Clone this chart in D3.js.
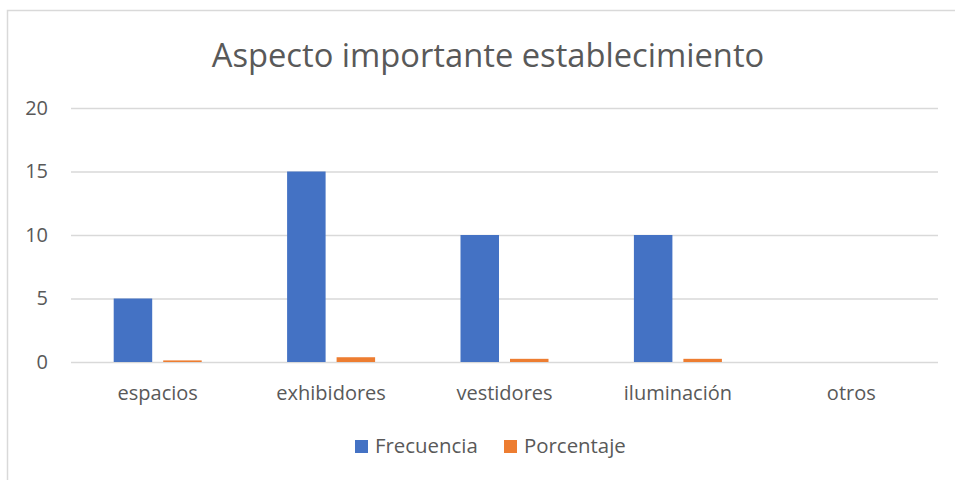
<!DOCTYPE html>
<html><head><meta charset="utf-8">
<script src="https://cdn.jsdelivr.net/npm/d3@7"></script>
<style>body{margin:0;background:#fff;} svg{display:block;font-family:"Open Sans",sans-serif;} svg text{font-family:"Open Sans",sans-serif;}</style>
</head><body><svg id="c" width="955" height="480"></svg>
<script>
const categories = ["espacios","exhibidores","vestidores","iluminación","otros"];
const frecuencia = [5,15,10,10,0];
const porcentaje = [0.125,0.375,0.25,0.25,0];
const seriesNames = ["Frecuencia","Porcentaje"];
const colors = ["#4472c4","#ed7d31"];
const yTicks = [0,5,10,15,20];
const title = "Aspecto importante establecimiento";

const svg = d3.select("#c");
svg.append("rect").attr("x",7.5).attr("y",10.5).attr("width",960).attr("height",480)
  .attr("fill","#fff").attr("stroke","#d9d9d9").attr("stroke-width",1.5);

const m = {l:71, r:938, t:108, b:362};
const x = d3.scaleBand().domain(categories).range([m.l,m.r]);
const y = d3.scaleLinear().domain([0,20]).range([m.b,m.t]);

const yAxis = d3.axisLeft(y).tickValues(yTicks).tickSize(-(m.r-m.l)).tickPadding(23);
const gy = svg.append("g").attr("transform",`translate(${m.l},0)`).call(yAxis);
gy.attr("font-family",null).attr("font-size",null);
gy.select(".domain").remove();
gy.selectAll("line").attr("stroke","#d9d9d9").attr("stroke-width",1.5);
gy.selectAll("text").attr("fill","#595959").style("font-size","20px");

const xAxis = d3.axisBottom(x).tickSize(0).tickPadding(24);
const gx = svg.append("g").attr("transform",`translate(0,${m.b})`).call(xAxis);
gx.attr("font-family",null).attr("font-size",null);
gx.select(".domain").remove();
gx.selectAll("text").attr("fill","#595959").style("font-size","20px");

const bw = 38.5, gap = 11;
const data = categories.map((c,i)=>({c, v:[frecuencia[i], porcentaje[i]]}));
const g = svg.append("g");
data.forEach(d=>{
  const cx = x(d.c) + x.bandwidth()/2;
  d.v.forEach((v,j)=>{
    const bx = cx - gap/2 - bw + j*(bw+gap);
    g.append("rect").attr("x",bx).attr("width",bw)
      .attr("y",y(v)).attr("height",Math.max(0,y(0)-y(v)))
      .attr("fill",colors[j]);
  });
});

svg.append("text").attr("x",488).attr("y",67).attr("text-anchor","middle")
  .attr("fill","#595959").style("font-size","32.7px").text(title);

const leg = svg.append("g");
const legX = [355,504];
seriesNames.forEach((s,i)=>{
  leg.append("rect").attr("x",legX[i]).attr("y",440).attr("width",13).attr("height",13).attr("fill",colors[i]);
  leg.append("text").attr("x",legX[i]+20).attr("y",453).attr("fill","#595959").style("font-size","20.4px").text(s);
});
</script></body></html>
